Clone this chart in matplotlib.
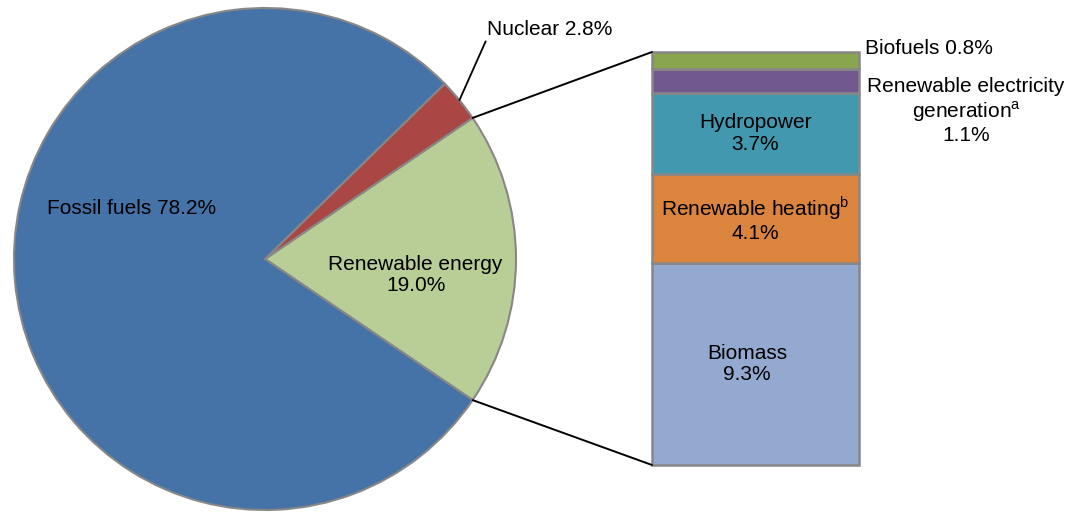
import matplotlib.pyplot as plt
from matplotlib.patches import ConnectionPatch
import numpy as np

plt.rcParams['font.family'] = ['Liberation Sans', 'DejaVu Sans']
plt.rcParams['mathtext.fontset'] = 'custom'
plt.rcParams['mathtext.rm'] = 'Liberation Sans'

# Pie data (counter clockwise, starting with the renewable wedge)
pie_labels = ['Renewable energy', 'Nuclear', 'Fossil fuels']
pie_values = [19.0, 2.8, 78.2]
pie_colors = ['#B9CD96', '#AA4643', '#4572A7']

# Renewable breakdown, bottom to top
bar_labels = ['Biomass', 'Renewable heating$^{\\mathrm{b}}$', 'Hydropower',
              'Renewable electricity\ngeneration$^{\\mathrm{a}}$', 'Biofuels']
bar_values = [9.3, 4.1, 3.7, 1.1, 0.8]
bar_colors = ['#93A9CF', '#DB843D', '#4198AF', '#71588F', '#89A54E']

edge = '#878787'
fs = 15

W, H = 1076, 512
fig = plt.figure(figsize=(W / 100, H / 100), dpi=100)

# Pie axes, centre (265, 259) px, radius 251 px
cx, cy, r = 265, 259, 251
ax1 = fig.add_axes([(cx - r) / W, (H - cy - r) / H, 2 * r / W, 2 * r / H])
start = -pie_values[0] * 360 / 100 / 2
wedges, _ = ax1.pie(pie_values, colors=pie_colors, startangle=start, counterclock=True,
                    radius=1, wedgeprops=dict(edgecolor=edge, linewidth=1.5))
for w in wedges:
    w.set_clip_on(False)
ax1.set_xlim(-1, 1)
ax1.set_ylim(-1, 1)
ax1.set_axis_off()

ax1.text(-0.869, 0.203, '%s %.1f%%' % (pie_labels[2], pie_values[2]),
         ha='left', va='center', fontsize=fs)
ax1.text(0.60, -0.064, '%s\n%.1f%%' % (pie_labels[0], pie_values[0]),
         ha='center', va='center', fontsize=fs, linespacing=1.15)

# Nuclear label with leader line from the middle of its wedge
mid = np.deg2rad(start + (pie_values[0] + pie_values[1] / 2) * 3.6)
ax1.annotate('%s %.1f%%' % (pie_labels[1], pie_values[1]),
             xy=(np.cos(mid), np.sin(mid)), xytext=(0.884, 0.916),
             ha='left', va='center', fontsize=fs,
             arrowprops=dict(arrowstyle='-', color='black', lw=1.3,
                             relpos=(0, 0), shrinkA=0, shrinkB=0))

# Stacked bar axes
bx0, by0, bx1, by1 = 652, 52, 859, 465
ax2 = fig.add_axes([bx0 / W, (H - by1) / H, (bx1 - bx0) / W, (by1 - by0) / H])
total = sum(bar_values)
bottom = 0
mids = []
for val, col in zip(bar_values, bar_colors):
    ax2.bar(0, val, width=1, bottom=bottom, color=col, edgecolor=edge, linewidth=1.8,
            clip_on=False)
    mids.append(bottom + val / 2)
    bottom += val
ax2.set_xlim(-0.5, 0.5)
ax2.set_ylim(0, total)
ax2.set_axis_off()

# labels inside the bar
ax2.text(-0.04, mids[0], '%s\n%.1f%%' % (bar_labels[0], bar_values[0]),
         ha='center', va='center', fontsize=fs, linespacing=1.15)
for i in [1, 2]:
    ax2.text(0, mids[i], '%s\n%.1f%%' % (bar_labels[i], bar_values[i]),
             ha='center', va='center', fontsize=fs, linespacing=1.15)
# labels outside the bar
ax2.text(0.529, total + 0.18, '%s %.1f%%' % (bar_labels[4], bar_values[4]),
         ha='left', va='center', fontsize=fs, clip_on=False)
ax2.text(1.017, 16.28, '%s\n%.1f%%' % (bar_labels[3], bar_values[3]),
         ha='center', va='center', fontsize=fs, linespacing=1.15, clip_on=False)

# Lines joining the renewable wedge with the bar
ang = np.deg2rad(pie_values[0] * 3.6 / 2)
for sgn, ytop in [(1, total), (-1, 0)]:
    con = ConnectionPatch(xyA=(np.cos(ang), sgn * np.sin(ang)), coordsA=ax1.transData,
                          xyB=(-0.5, ytop), coordsB=ax2.transData,
                          color='black', lw=1.4)
    fig.add_artist(con)

plt.savefig('out.png', dpi=100)
